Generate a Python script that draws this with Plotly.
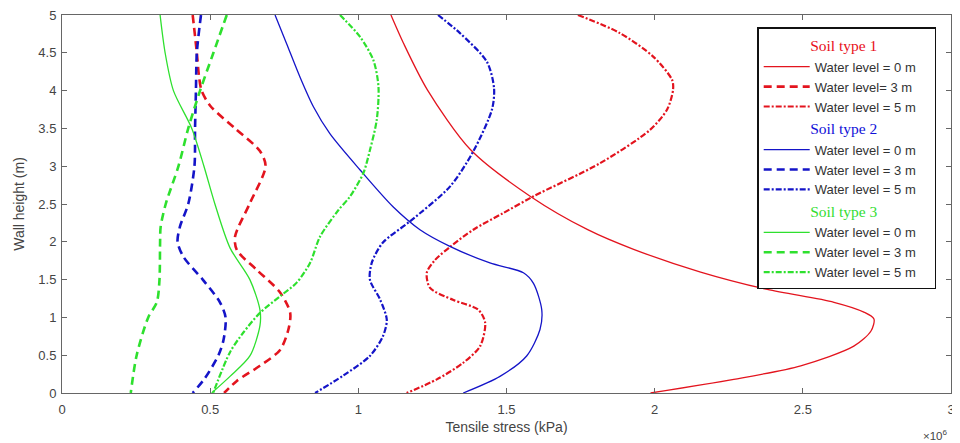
import plotly.graph_objects as go

# x values in units of 10^6 kPa, y = wall height (m)
s1_wl0_y = [5, 4.63, 4.01, 3.22, 2.6, 2.16, 1.9, 1.6, 1.37, 1.2, 1.07, 0.98, 0.82, 0.62, 0.36, 0.18, 0]
s1_wl0_x = [1.11, 1.152, 1.233, 1.378, 1.581, 1.774, 1.929, 2.155, 2.38, 2.605, 2.706, 2.74, 2.73, 2.672, 2.493, 2.267, 1.986]

s1_wl3_y = [5, 4.5, 4.2, 4, 3.8, 3.5, 3.2, 3, 2.51, 2.07, 1.89, 1.63, 1.33, 1.06, 0.84, 0.57, 0.36, 0.16, 0]
s1_wl3_x = [0.441, 0.455, 0.462, 0.471, 0.50, 0.584, 0.668, 0.687, 0.634, 0.584, 0.590, 0.657, 0.736, 0.770, 0.764, 0.736, 0.668, 0.590, 0.547]

s1_wl5_y = [5, 4.76, 4.45, 4.14, 4.01, 3.75, 3.48, 3.04, 2.6, 2.38, 2.16, 1.94, 1.76, 1.59, 1.39, 1.23, 1.10, 0.93, 0.62, 0.40, 0.18, 0]
s1_wl5_x = [1.741, 1.883, 1.995, 2.059, 2.062, 2.042, 1.984, 1.816, 1.590, 1.489, 1.388, 1.312, 1.259, 1.231, 1.242, 1.321, 1.405, 1.428, 1.411, 1.354, 1.265, 1.163]

s2_wl0_y = [5, 4.62, 4.18, 3.79, 3.43, 2.95, 2.46, 2.16, 1.94, 1.72, 1.59, 1.45, 1.10, 0.84, 0.49, 0.22, 0]
s2_wl0_x = [0.719, 0.758, 0.803, 0.848, 0.904, 1.006, 1.118, 1.208, 1.309, 1.444, 1.557, 1.591, 1.619, 1.613, 1.568, 1.478, 1.354]

s2_wl3_y = [5, 4.5, 4, 3.5, 3, 2.5, 2.2, 2, 1.8, 1.5, 1.2, 1, 0.7, 0.5, 0.2, 0]
s2_wl3_x = [0.469, 0.455, 0.452, 0.449, 0.447, 0.426, 0.398, 0.390, 0.410, 0.475, 0.533, 0.552, 0.545, 0.528, 0.483, 0.441]

s2_wl5_y = [5, 4.76, 4.38, 4.03, 3.75, 3.19, 2.73, 2.27, 1.99, 1.73, 1.5, 1.24, 0.97, 0.75, 0.49, 0.23, 0]
s2_wl5_x = [1.269, 1.343, 1.434, 1.458, 1.451, 1.387, 1.309, 1.174, 1.083, 1.046, 1.039, 1.073, 1.096, 1.083, 1.039, 0.949, 0.854]

s3_wl0_y = [5, 4.5, 4, 3.5, 3, 2.5, 1.92, 1.5, 1.1, 0.89, 0.49, 0.22, 0]
s3_wl0_x = [0.331, 0.348, 0.376, 0.438, 0.479, 0.516, 0.567, 0.634, 0.668, 0.668, 0.634, 0.567, 0.505]

s3_wl3_y = [5, 4.5, 4, 3.5, 3, 2.5, 2.2, 2, 1.5, 1.2, 1, 0.5, 0]
s3_wl3_x = [0.556, 0.511, 0.466, 0.426, 0.393, 0.350, 0.333, 0.331, 0.329, 0.320, 0.291, 0.252, 0.232]

s3_wl5_y = [5, 4.71, 4.40, 4.05, 3.61, 3.21, 2.91, 2.60, 2.42, 2.07, 1.72, 1.46, 1.28, 1.06, 0.8, 0.54, 0]
s3_wl5_x = [0.938, 1.006, 1.051, 1.068, 1.062, 1.039, 1.017, 0.972, 0.933, 0.871, 0.837, 0.792, 0.736, 0.668, 0.612, 0.567, 0.510]

soil_names = ["Soil type 1", "Soil type 2", "Soil type 3"]
level_names = ["Water level = 0 m", "Water level= 3 m", "Water level = 5 m"]
level_names_other = ["Water level = 0 m", "Water level = 3 m", "Water level = 5 m"]
x_ticks = [0, 0.5, 1, 1.5, 2, 2.5, 3]
y_ticks = [0, 0.5, 1, 1.5, 2, 2.5, 3, 3.5, 4, 4.5, 5]

colors = ["#e3141e", "#1414c8", "#2ee02e"]
title_colors = ["#e8101a", "#1010d8", "#33dd33"]

series = [
    [(s1_wl0_x, s1_wl0_y), (s1_wl3_x, s1_wl3_y), (s1_wl5_x, s1_wl5_y)],
    [(s2_wl0_x, s2_wl0_y), (s2_wl3_x, s2_wl3_y), (s2_wl5_x, s2_wl5_y)],
    [(s3_wl0_x, s3_wl0_y), (s3_wl3_x, s3_wl3_y), (s3_wl5_x, s3_wl5_y)],
]
dashes = ["solid", "8px,5px", "6px,2px,2px,2px"]
widths = [1.3, 2.6, 2.2]
LPAD = "\u00a0" * 12
RPAD = "\u00a0" * 12

fig = go.Figure()
for si, soil in enumerate(series):
    names = level_names if si == 0 else level_names_other
    for li, (xs, ys) in enumerate(soil):
        kw = {}
        if li == 0:
            kw = dict(legendgrouptitle=dict(
                text=LPAD + soil_names[si] + RPAD,
                font=dict(family="Liberation Serif, Times New Roman, serif", size=15.5, color=title_colors[si])))
        fig.add_trace(go.Scatter(
            x=xs, y=ys, mode="lines", name=names[li],
            legendgroup=f"soil{si+1}",
            line=dict(color=colors[si], width=widths[li], dash=dashes[li], shape="spline", smoothing=0.8),
            **kw))

axis_common = dict(
    showline=True, linecolor="#666666", linewidth=1, mirror="allticks",
    ticks="inside", ticklen=5, tickcolor="#666666", showgrid=False, zeroline=False,
    automargin=False, ticklabeloverflow="allow",
    tickfont=dict(family="Liberation Sans, Arial, sans-serif", size=13, color="#444444"),
)
fig.update_xaxes(range=[0, 3], tickvals=x_ticks, ticktext=[f"{v:g}" for v in x_ticks],
                 ticklabelstandoff=4,
                 title=dict(text="Tensile stress (kPa)", standoff=6,
                            font=dict(family="Liberation Sans, Arial, sans-serif", size=14, color="#444444")),
                 **axis_common)
fig.update_yaxes(range=[0, 5], tickvals=y_ticks, ticktext=[f"{v:g}" for v in y_ticks],
                 ticklabelstandoff=2,
                 title=dict(text="Wall height (m)", standoff=10,
                            font=dict(family="Liberation Sans, Arial, sans-serif", size=14, color="#444444")),
                 **axis_common)

fig.add_annotation(xref="paper", yref="paper", x=0.999, y=-0.11, xanchor="right", yanchor="middle",
                   text="×10<sup>6</sup>", showarrow=False,
                   font=dict(family="Liberation Sans, Arial, sans-serif", size=11.5, color="#444444"))

# page body has an 8px margin, so the figure is sized to fit inside the 960x443 window
fig.update_layout(
    width=952, height=435,
    margin=dict(l=54, r=9, t=7, b=49.5),
    plot_bgcolor="white", paper_bgcolor="white",
    legend=dict(x=0.782, y=0.968, xanchor="left", yanchor="top",
                bordercolor="#111111", borderwidth=1.5, bgcolor="white",
                tracegroupgap=0, itemwidth=46,
                font=dict(family="Liberation Sans, Arial, sans-serif", size=13, color="#333333")),
)

fig.write_html("out.html")
